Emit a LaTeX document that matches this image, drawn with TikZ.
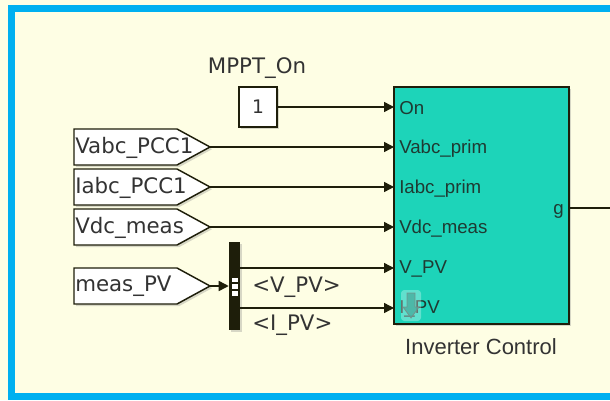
\documentclass[tikz,border=0pt]{standalone}
\usepackage{fontspec}
\newfontfamily\fdv{DejaVu Sans}
\newfontfamily\farial{Liberation Sans}
\usetikzlibrary{arrows.meta,shadows}
\definecolor{bgc}{HTML}{FEFEE4}
\definecolor{bluec}{HTML}{00B0F0}
\definecolor{tealc}{HTML}{1DD4B9}
\definecolor{linec}{HTML}{1E1E0A}
\definecolor{txtc}{HTML}{333333}
\definecolor{porttxt}{HTML}{1F3A32}
\tikzset{
  wire/.style={draw=linec, line width=1.1pt},
  sig/.style={wire, -{Triangle[length=7.5pt,width=7.5pt]}},
  shd/.style={drop shadow={opacity=0.3, shadow xshift=1.6pt, shadow yshift=-1.6pt}},
  blockbox/.style={draw=linec, line width=1.1pt, fill=tealc, shd, inner sep=0pt},
  constbox/.style={draw=linec, line width=1.1pt, fill=white, shd, inner sep=0pt,
     minimum width=28.5pt, minimum height=30pt, font=\fdv\fontsize{14}{16}\selectfont, text=txtc},
  tagline/.style={draw=linec, line width=1.1pt, fill=white, shd},
  tagtext/.style={font=\fdv\fontsize{16}{18}\selectfont, text=txtc, inner sep=0pt, anchor=west},
  porttext/.style={font=\farial\fontsize{14}{16}\selectfont, text=porttxt, inner sep=0pt, anchor=west},
  captext/.style={font=\farial\fontsize{16.5}{18}\selectfont, text=txtc, inner sep=0pt},
}
\newcommand{\mytag}[3]{%
  \draw[tagline] (74,{#2-18}) -- (177,{#2-18}) -- (210,#2) -- (177,{#2+18}) -- (74,{#2+18}) -- cycle;
  \coordinate (#1) at (210,#2);
  \node[tagtext] (#1txt) at (75,{#2+0.5}) {#3};}
\begin{document}
\begin{tikzpicture}[x=0.75pt,y=-0.75pt]
\useasboundingbox (0,0) rectangle (610,400);
\clip (0,0) rectangle (610,400);
\fill[bgc] (0,0) rectangle (610,400);
\draw[bluec, line width=5.25pt] (11.5,8) rectangle (625,396.5);

% main block
\node[blockbox, minimum width=131.25pt, minimum height=177.75pt] (inv) at (481.5,205.5) {};
\node[captext] (invlab) at (481,347) {Inverter Control};

% port labels
\node[porttext] (pOn) at (399,108.5) {On};
\node[porttext] (pVabc) at (399,148.5) {Vabc\_prim};
\node[porttext] (pIabc) at (399,188.5) {Iabc\_prim};
\node[porttext] (pVdc) at (399,228.5) {Vdc\_meas};
\node[porttext] (pVPV) at (399,269) {V\_PV};
\node[porttext] (pIPV) at (399,309) {I\_PV};
\node[porttext, anchor=east] (pg) at (564,211) {g};

\coordinate (inOn) at (394,107);
\coordinate (inVabc) at (394,147);
\coordinate (inIabc) at (394,187);
\coordinate (inVdc) at (394,227);
\coordinate (inVPV) at (394,268);
\coordinate (inIPV) at (394,308);
\coordinate (gport) at (569,208);
\coordinate (gout) at (620,208);

% overlay icon on I_PV
\fill[white, opacity=0.3, rounded corners=2.5pt] (401,290) rectangle (421,321);
\draw[draw=porttxt!60, fill=tealc!55!gray, line width=0.6pt, opacity=0.8]
  (407,293) -- (415,293) -- (415,307) -- (419,307) -- (411,318) -- (403,307) -- (407,307) -- cycle;

% constant
\node[constbox] (const) at (258,107) {1};
\node[tagtext, anchor=center] (constlab) at (257,68) {MPPT\_On};

% tags
\mytag{tVabc}{147}{Vabc\_PCC1}
\mytag{tIabc}{187}{Iabc\_PCC1}
\mytag{tVdc}{227}{Vdc\_meas}
\mytag{tmeas}{286}{meas\_PV}

% bus selector
\node[fill=linec, shd, inner sep=0pt, minimum width=8.25pt, minimum height=66pt] (bus) at (234.5,286) {};
\fill[white] (231.5,277.5) rectangle (237.5,282);
\fill[white] (231.5,284) rectangle (237.5,289);
\fill[white] (231.5,291) rectangle (237.5,296);
\coordinate (busV) at (240,268);
\coordinate (busI) at (240,308);
\node[tagtext] (lV) at (252,287) {<V\_PV>};
\node[tagtext] (lI) at (252,325) {<I\_PV>};

% connectors
\draw[sig] (const.east |- inOn) -- (inOn);
\draw[sig] (tVabc) -- (inVabc);
\draw[sig] (tIabc) -- (inIabc);
\draw[sig] (tVdc) -- (inVdc);
\draw[sig] (tmeas) -- (bus.west |- tmeas);
\draw[sig] (busV) -- (inVPV);
\draw[sig] (busI) -- (inIPV);
\draw[wire] (gport) -- (gout);
\end{tikzpicture}
\end{document}
